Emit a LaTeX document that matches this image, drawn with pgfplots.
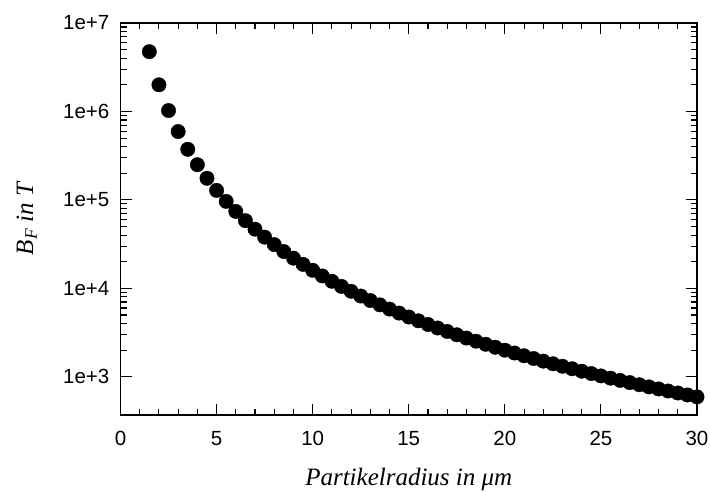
\documentclass[border=0pt]{standalone}
\usepackage{fontspec}
\setmainfont{Liberation Serif}
\newfontfamily\arialf{Liberation Sans}
\usepackage{pgfplots}
\pgfplotsset{compat=1.18}
\begin{document}
\begin{tikzpicture}
\useasboundingbox (0,0) rectangle (710pt,492pt);
\begin{axis}[
  at={(120.5pt,77pt)}, anchor=south west,
  width=576.5pt, height=392pt, scale only axis,
  xmin=0, xmax=30, ymin=370, ymax=1e7,
  ymode=log,
  axis line style={line width=1.6pt},
  every tick/.style={black, line width=1.1pt},
  major tick length=11pt, minor tick length=6pt,
  tick align=inside,
  xtick={0,5,10,15,20,25,30},
  xticklabels={0,5,10,15,20,25,30},
  minor x tick num=4,
  ytick={1e3,1e4,1e5,1e6,1e7},
  yticklabels={1e+3,1e+4,1e+5,1e+6,1e+7},
  ticklabel style={font=\arialf\fontsize{20.5}{20.5}\selectfont},
  yticklabel style={inner sep=0pt, anchor=east, xshift=-11pt},
  xticklabel style={inner sep=0pt, anchor=north, yshift=-16pt},
  xlabel={\itshape Partikelradius in μm},
  ylabel={\itshape B\textsubscript{F} in T},
  label style={font=\fontsize{25}{25}\selectfont},
  xlabel style={at={(axis description cs:0.5,-0.1786)}, anchor=base},
  ylabel style={at={(axis description cs:-0.1517,0.5)}, anchor=base, rotate=0},
]
\addplot[only marks, mark=*, mark size=7.2pt, mark options={fill=black, draw=black}] coordinates {
(1.5,4740741) (2,2000000) (2.5,1024000) (3,592593) (3.5,373178) (4,250000)
(4.5,175583) (5,128000) (5.5,96168) (6,74074) (6.5,58262) (7,46647)
(7.5,37926) (8,31250) (8.5,26053) (9,21948) (9.5,18662) (10,16000)
(10.5,13821) (11,12021) (11.5,10520) (12,9259) (12.5,8192) (13,7283)
(13.5,6503) (14,5831) (14.5,5248) (15,4741) (15.5,4297) (16,3906)
(16.5,3562) (17,3257) (17.5,2985) (18,2743) (18.5,2527) (19,2333)
(19.5,2158) (20,2000) (20.5,1857) (21,1728) (21.5,1610) (22,1503)
(22.5,1405) (23,1315) (23.5,1233) (24,1157) (24.5,1088) (25,1024)
(25.5,965) (26,910) (26.5,860) (27,813) (27.5,769) (28,729)
(28.5,691) (29,656) (29.5,623) (30,593)
};
\end{axis}
\end{tikzpicture}
\end{document}
